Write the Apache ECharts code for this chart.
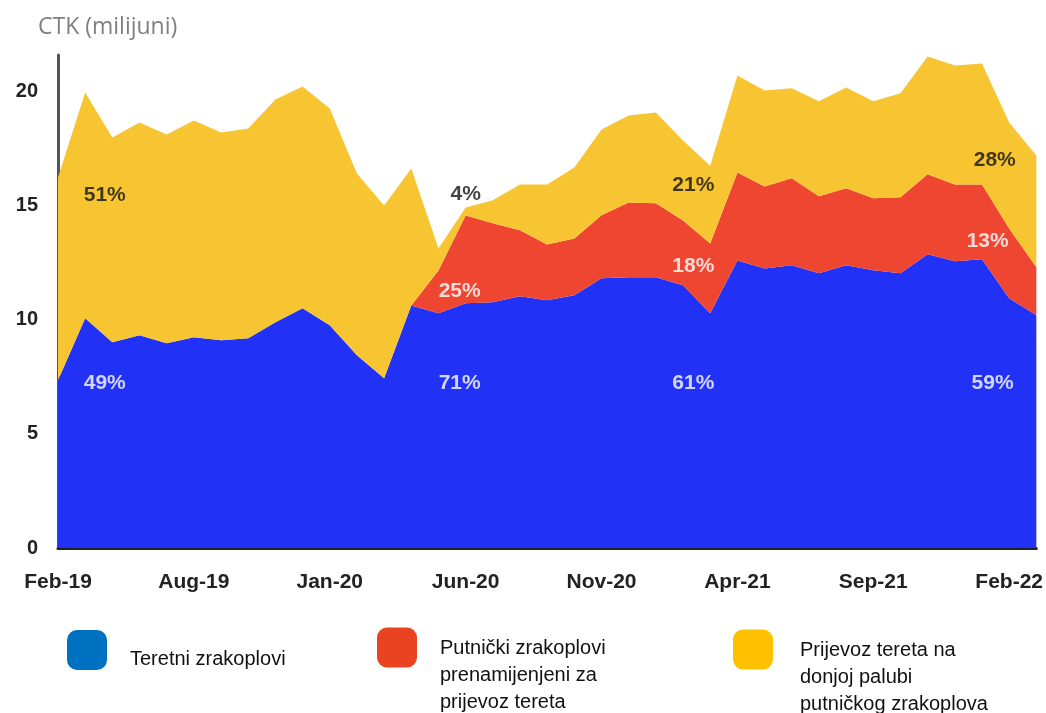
<!DOCTYPE html>
<html>
<head>
<meta charset="utf-8">
<script src="https://cdn.jsdelivr.net/npm/echarts@6/dist/echarts.min.js"></script>
<style>
  html, body { margin: 0; padding: 0; background: #fff; }
  #chart { width: 1046px; height: 713px; }
</style>
</head>
<body>
<div id="chart"></div>
<script>
// mjesečni podaci, Feb-19 ... Feb-22 (indeks 0..36), oznaka svakih 5 mjeseci
const tickLabels = ['Feb-19', 'Aug-19', 'Jan-20', 'Jun-20', 'Nov-20', 'Apr-21', 'Sep-21', 'Feb-22'];

// teretni zrakoplovi
const freighters = [7.35, 10.07, 9.02, 9.32, 8.97, 9.23, 9.10, 9.19, 9.89, 10.50,
  9.76, 8.45, 7.44, 10.63, 10.28, 10.72, 10.77, 11.03, 10.85, 11.07,
  11.82, 11.86, 11.86, 11.51, 10.28, 12.60, 12.25, 12.39, 12.04, 12.39,
  12.17, 12.04, 12.87, 12.56, 12.65, 10.94, 10.20];

// putnički zrakoplovi prenamijenjeni za prijevoz tereta
const converted = [0, 0, 0, 0, 0, 0, 0, 0, 0, 0,
  0, 0, 0, 0, 1.88, 3.85, 3.46, 2.89, 2.45, 2.49,
  2.76, 3.28, 3.24, 2.84, 3.06, 3.85, 3.59, 3.81, 3.37, 3.37,
  3.15, 3.33, 3.50, 3.37, 3.28, 3.06, 2.10];

// donja paluba putničkih zrakoplova
const bellyCargo = [8.88, 9.89, 8.97, 9.32, 9.15, 9.50, 9.10, 9.19, 9.76, 9.72,
  9.50, 7.96, 7.57, 6.00, 0.96, 0.35, 1.01, 2.01, 2.63, 3.11,
  3.76, 3.81, 3.98, 3.50, 3.41, 4.25, 4.20, 3.94, 4.16, 4.42,
  4.25, 4.55, 5.16, 5.21, 5.30, 4.64, 4.90];

const seriesNames = ['Teretni zrakoplovi', 'Putnički zrakoplovi prenamijenjeni za prijevoz tereta', 'Prijevoz tereta na donjoj palubi putničkog zrakoplova'];
const legendLines = [
  ['Teretni zrakoplovi'],
  ['Putnički zrakoplovi', 'prenamijenjeni za', 'prijevoz tereta'],
  ['Prijevoz tereta na', 'donjoj palubi', 'putničkog zrakoplova']
];

// udjeli (tekst, položaj u mjesecima, vrijednost na osi)
const shareText = ['51%', '49%', '4%', '25%', '71%', '21%', '18%', '61%', '28%', '13%', '59%'];
const shareX = [1.72, 1.72, 15.0, 14.78, 14.78, 23.38, 23.38, 23.38, 34.47, 34.21, 34.39];
const shareY = [15.45, 7.22, 15.49, 11.25, 7.22, 15.89, 12.34, 7.22, 16.98, 13.44, 7.22];
const shareDark = [true, false, true, false, false, true, false, false, true, false, false];

const areaColors = ['#2131F6', '#EE4631', '#F8C532'];
const legendColors = ['#0070C0', '#E94322', '#FFC000'];

const chart = echarts.init(document.getElementById('chart'));

const legendLayout = [
  { left: 62, top: 625, gap: 18, padLeft: 18 },
  { left: 372, top: 601, gap: 56, padLeft: 18 },
  { left: 728, top: 603, gap: 56, padLeft: 22 }
];

chart.setOption({
  animation: false,
  title: {
    text: 'CTK (milijuni)',
    left: 33,
    top: 11,
    textStyle: { color: '#7f7f7f', fontSize: 23, fontWeight: 'normal', fontFamily: 'Open Sans' }
  },
  grid: { left: 58, right: 4, top: 55, bottom: 165 },
  legend: seriesNames.map((name, k) => ({
    data: [{ name: name, itemStyle: { color: legendColors[k] } }],
    left: legendLayout[k].left,
    top: legendLayout[k].top,
    icon: 'roundRect',
    itemWidth: 40,
    itemHeight: 40,
    selectedMode: false,
    formatter: () => '{g| }\n' + legendLines[k].map(l => '{t|' + l + '}').join('\n'),
    textStyle: {
      padding: [0, 0, 0, legendLayout[k].padLeft],
      rich: {
        g: { fontSize: 2, lineHeight: legendLayout[k].gap },
        t: { fontFamily: 'Liberation Sans', fontSize: 20, lineHeight: 27, color: '#111' }
      }
    }
  })),
  xAxis: [{
    type: 'category',
    data: freighters.map((_, i) => i),
    boundaryGap: false,
    axisTick: { show: false },
    axisLine: { show: true, lineStyle: { color: '#222', width: 3 } },
    axisLabel: {
      interval: 0,
      margin: 24,
      fontFamily: 'Liberation Sans',
      fontWeight: 'bold',
      fontSize: 21,
      color: '#222',
      formatter: (v, idx) => (idx % 5 === 0 && tickLabels[idx / 5]) ? tickLabels[idx / 5] : ''
    }
  }, {
    type: 'value',
    min: 0,
    max: freighters.length - 1,
    show: false
  }],
  yAxis: {
    type: 'value',
    min: 0,
    max: 21.6,
    interval: 5,
    splitLine: { show: false },
    axisTick: { show: false },
    axisLine: { show: true, lineStyle: { color: '#555', width: 3 } },
    axisLabel: {
      margin: 20,
      showMaxLabel: false,
      fontFamily: 'Liberation Sans',
      fontWeight: 'bold',
      fontSize: 20,
      color: '#222'
    }
  },
  series: [freighters, converted, bellyCargo].map((arr, k) => ({
    name: seriesNames[k],
    type: 'line',
    stack: 'ctk',
    data: arr,
    showSymbol: false,
    symbol: 'none',
    lineStyle: { width: 0 },
    itemStyle: { color: areaColors[k] },
    areaStyle: { color: areaColors[k], opacity: 1 },
    z: 2
  })).concat([{
    name: 'udjeli',
    type: 'scatter',
    xAxisIndex: 1,
    symbolSize: 0,
    silent: true,
    z: 5,
    label: {
      show: true,
      position: 'inside',
      fontFamily: 'Liberation Sans',
      fontWeight: 'bold',
      fontSize: 21,
      formatter: p => shareText[p.dataIndex]
    },
    data: shareX.map((x, k) => ({
      value: [x, shareY[k]],
      label: { color: shareDark[k] ? '#111' : '#fff' }
    }))
  }])
});
</script>
</body>
</html>
